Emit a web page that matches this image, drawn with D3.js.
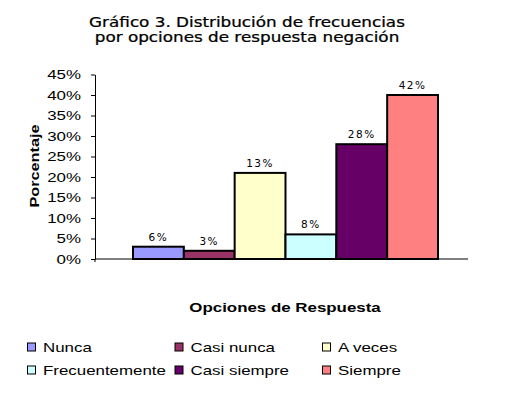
<!DOCTYPE html>
<html>
<head>
<meta charset="utf-8">
<script src="https://cdn.jsdelivr.net/npm/d3@7"></script>
<style>
  body { margin: 0; background: #fff; }
  svg { display: block; }
</style>
</head>
<body>
<svg></svg>
<script>
// datos del grafico
const categorias = ["Nunca", "Casi nunca", "A veces", "Frecuentemente", "Casi siempre", "Siempre"];
const alturas = [3, 2, 21, 6, 28, 40];          // altura dibujada de cada barra (%)
const etiquetas = ["6%", "3%", "13%", "8%", "28%", "42%"];  // texto sobre cada barra
const colores = ["#9999FF", "#993366", "#FFFFCC", "#CCFFFF", "#660066", "#FF8080"];
const ticksY = [0, 5, 10, 15, 20, 25, 30, 35, 40, 45];
const tituloLineas = ["Gráfico 3. Distribución de frecuencias", "por opciones de respuesta negación"];

const width = 507, height = 399;
const stretch = 1.3; // el original esta estirado a lo ancho

const svg = d3.select("svg")
   .attr("width", width)
   .attr("height", height);

const y = d3.scaleLinear().domain([0, 45]).range([259, 74.5]);
const x = d3.scaleBand().domain(categorias).range([133, 438]).padding(0);
const plotLeft = 95, plotRight = 468;

// titulo
svg.append("g")
   .attr("transform", "translate(247,27)")
   .selectAll("text")
   .data(tituloLineas)
   .join("text")
   .attr("y", (d, i) => i * 15)
   .attr("text-anchor", "middle")
   .attr("transform", "scale(1.2,1)")
   .attr("stroke", "#000")
   .attr("stroke-width", 0.25)
   .style("font-family", "DejaVu Sans, Verdana, sans-serif")
   .style("font-size", "14px")
   .text(d => d);

// eje y
const yAxis = svg.append("g")
   .attr("transform", `translate(${plotLeft},0)`)
   .call(d3.axisLeft(y).tickValues(ticksY).tickFormat(d => d + "%").tickSize(4).tickSizeOuter(0));
yAxis.select(".domain").attr("stroke", "#000").attr("stroke-width", 1);
yAxis.selectAll(".tick line").attr("stroke", "#000");
yAxis.selectAll(".tick text")
   .attr("x", -10.8)
   .attr("transform", `scale(${stretch},1)`)
   .attr("fill", "#000")
   .style("font-family", "Liberation Sans, Arial, sans-serif")
   .style("font-size", "13px");

// eje x (solo la linea)
svg.append("line")
   .attr("x1", plotLeft).attr("x2", plotRight)
   .attr("y1", y(0)).attr("y2", y(0))
   .attr("stroke", "#000");
svg.append("line")
   .attr("x1", plotLeft).attr("x2", plotLeft)
   .attr("y1", y(0)).attr("y2", y(0) + 3)
   .attr("stroke", "#000");

// barras
svg.selectAll("rect.bar")
   .data(categorias)
   .join("rect")
   .attr("class", "bar")
   .attr("x", d => x(d))
   .attr("y", (d, i) => y(alturas[i]))
   .attr("width", x.bandwidth())
   .attr("height", (d, i) => y(0) - y(alturas[i]))
   .attr("fill", (d, i) => colores[i])
   .attr("stroke", "#000")
   .attr("stroke-width", 2);

// etiquetas de barras
svg.selectAll("text.lbl")
   .data(categorias)
   .join("text")
   .attr("class", "lbl")
   .attr("x", d => x(d) + x.bandwidth() / 2)
   .attr("y", (d, i) => y(alturas[i]) - 6)
   .attr("text-anchor", "middle")
   .style("font-family", "DejaVu Sans, Verdana, sans-serif")
   .style("font-size", "10.5px")
   .style("letter-spacing", "1.5px")
   .text((d, i) => etiquetas[i]);

// titulo eje y
svg.append("g")
   .attr("transform", "translate(38.5,166) rotate(-90)")
   .append("text")
   .attr("text-anchor", "middle")
   .attr("transform", `scale(${stretch},1)`)
   .style("font-family", "Liberation Sans, Arial, sans-serif")
   .style("font-size", "12.5px")
   .style("font-weight", "bold")
   .text("Porcentaje");

// titulo eje x
svg.append("g")
   .attr("transform", "translate(285,312)")
   .append("text")
   .attr("text-anchor", "middle")
   .attr("transform", `scale(${stretch},1)`)
   .style("font-family", "Liberation Sans, Arial, sans-serif")
   .style("font-size", "13px")
   .style("font-weight", "bold")
   .text("Opciones de Respuesta");

// leyenda
const legend = svg.selectAll("g.leg")
   .data(categorias)
   .join("g")
   .attr("class", "leg")
   .attr("transform", (d, i) => `translate(${27 + (i % 3) * 147.5},${352 + Math.floor(i / 3) * 23})`);
legend.append("rect")
   .attr("x", 0.5).attr("y", -9)
   .attr("width", 8).attr("height", 8)
   .attr("fill", (d, i) => colores[i])
   .attr("stroke", "#000")
   .attr("stroke-width", 1);
legend.append("text")
   .attr("x", 16 / stretch)
   .attr("transform", `scale(${stretch},1)`)
   .style("font-family", "Liberation Sans, Arial, sans-serif")
   .style("font-size", "13px")
   .text(d => d);
</script>
</body>
</html>
